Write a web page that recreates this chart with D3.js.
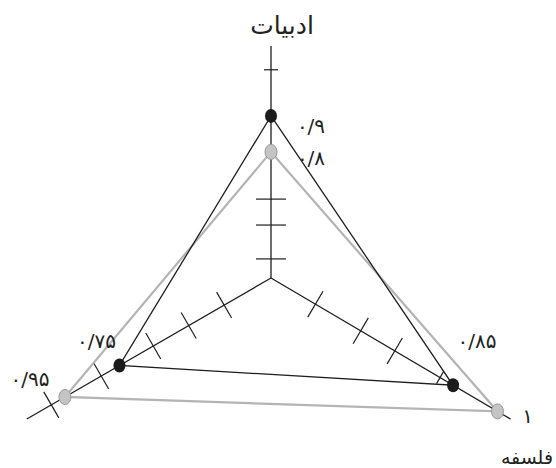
<!DOCTYPE html>
<html><head><meta charset="utf-8">
<script src="https://cdn.jsdelivr.net/npm/d3@7"></script>
<style>body{margin:0;background:#fff}svg{display:block}</style>
</head><body>
<script>
// ---- data ----
const axisNames = ["ادبیات", "فلسفه", ""];          // top, right, left
const seriesDark = [0.9, 0.85, 0.75];
const seriesLight = [0.8, 1, 0.95];
const axisDomains = [[0.45, 1.094], [0.235, 1.044], [0.194, 1.09]];
const majorTicks = [[0.503, 0.597, 0.669], [0.385, 0.538, 0.653], [0.366, 0.496, 0.626, 0.817, 1.0]];
const minorTicks = [[1.028], [0.806], []];

// ---- layout ----
const W = 556, H = 468, cx = 271, cy = 278;
const axisLen = [232, 278, 282];
const angles = [-90, 30.5, 150].map(a => a * Math.PI / 180);
const scales = axisDomains.map((d, i) => d3.scaleLinear().domain(d).range([0, axisLen[i]]));
const pt = (i, v) => { const r = scales[i](v); return [cx + r * Math.cos(angles[i]), cy + r * Math.sin(angles[i])]; };
const fa = v => d3.format("")(v).replace(/\./, "/").replace(/\d/g, c => "۰۱۲۳۴۵۶۷۸۹"[+c]);

const svg = d3.select("body").append("svg").attr("width", W).attr("height", H);
const font = "'DejaVu Sans', sans-serif";

// axes
axisNames.forEach((n, i) => {
  const [x2, y2] = pt(i, axisDomains[i][1]);
  svg.append("line").attr("x1", cx).attr("y1", cy).attr("x2", x2).attr("y2", y2)
    .attr("stroke", "#1e1e1e").attr("stroke-width", 1.3);
  const px = -Math.sin(angles[i]), py = Math.cos(angles[i]);
  const drawTick = (v, half) => {
    const [x, y] = pt(i, v);
    svg.append("line").attr("x1", x - px * half).attr("y1", y - py * half)
      .attr("x2", x + px * half).attr("y2", y + py * half)
      .attr("stroke", "#1e1e1e").attr("stroke-width", 1.2);
  };
  majorTicks[i].forEach(v => drawTick(v, 15));
  minorTicks[i].forEach(v => drawTick(v, 7));
});

// polygons
const line = d3.line().curve(d3.curveLinearClosed);
svg.append("path").attr("d", line(seriesLight.map((v, i) => pt(i, v))))
  .attr("fill", "none").attr("stroke", "#b4b4b4").attr("stroke-width", 2.2);
svg.append("path").attr("d", line(seriesDark.map((v, i) => pt(i, v))))
  .attr("fill", "none").attr("stroke", "#1e1e1e").attr("stroke-width", 1.3);

// points
seriesLight.forEach((v, i) => { const [x, y] = pt(i, v);
  svg.append("ellipse").attr("cx", x).attr("cy", y).attr("rx", 6).attr("ry", 7.5)
    .attr("fill", "#c4c4c4").attr("stroke", "#999").attr("stroke-width", 1); });
seriesDark.forEach((v, i) => { const [x, y] = pt(i, v);
  svg.append("ellipse").attr("cx", x).attr("cy", y).attr("rx", 6).attr("ry", 7)
    .attr("fill", "#1c1c1c"); });

// value labels
const offDark = [[40, 17], [24, -37], [-23, -17]];
const offLight = [[40, 13], [30, 12], [-35, -11]];
const addLabel = (series, offs) => series.forEach((v, i) => { const [x, y] = pt(i, v);
  svg.append("text").attr("x", x + offs[i][0]).attr("y", y + offs[i][1])
    .attr("text-anchor", "middle").attr("font-family", font).attr("font-size", 20)
    .attr("fill", "#222").text(fa(v)); });
addLabel(seriesDark, offDark);
addLabel(seriesLight, offLight);

// axis titles
svg.append("text").attr("x", 282).attr("y", 34).attr("text-anchor", "middle")
  .attr("font-family", font).attr("font-size", 25).attr("fill", "#222").text(axisNames[0]);
svg.append("text").attr("x", 553).attr("y", 464).attr("text-anchor", "end")
  .attr("font-family", font).attr("font-size", 19).attr("fill", "#222").text(axisNames[1]);
</script>
</body></html>
